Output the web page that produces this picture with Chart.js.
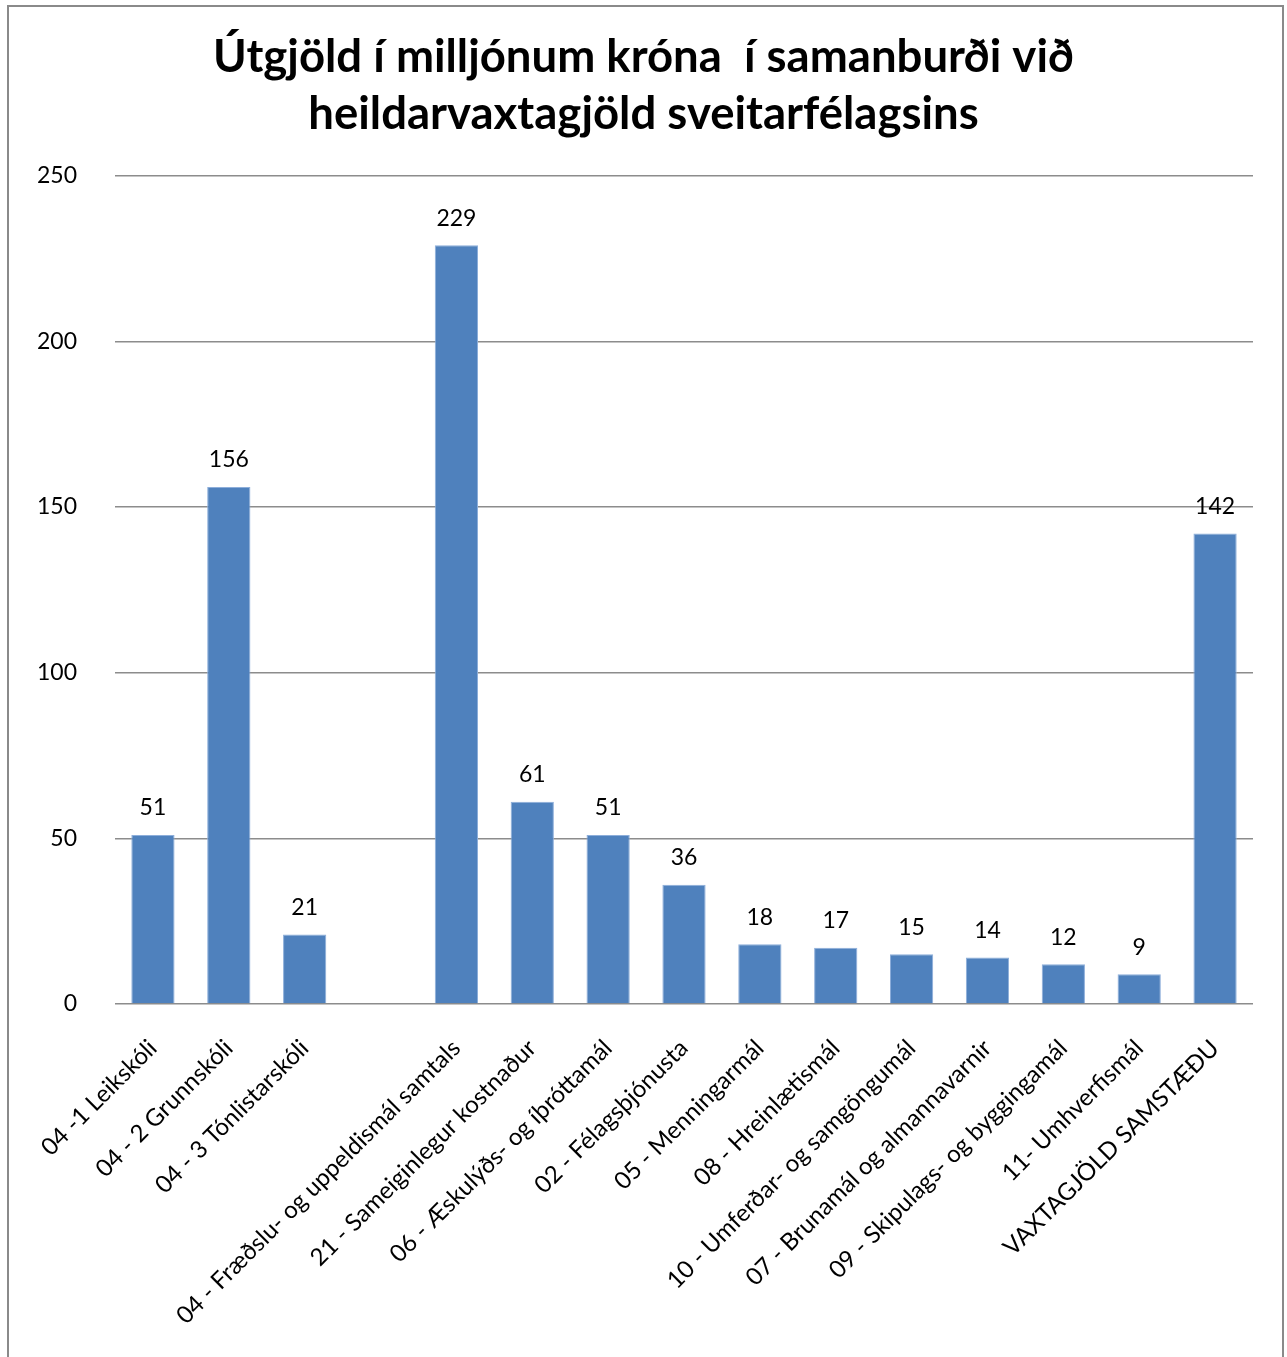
<!DOCTYPE html>
<html>
<head>
<meta charset="utf-8">
<script src="https://cdn.jsdelivr.net/npm/chart.js@4"></script>
<style>
  html, body { margin: 0; padding: 0; background: #fff; }
  #wrap { position: absolute; left: 0; top: 0; width: 1287px; height: 1357px; }
</style>
</head>
<body>
<div id="wrap"><canvas id="myChart"></canvas></div>
<script>
// categories (index 3 is an empty slot in the original)
const categories = [
  "04 -1 Leikskóli",
  "04 - 2 Grunnskóli",
  "04 - 3 Tónlistarskóli",
  "",
  "04 - Fræðslu- og uppeldismál samtals",
  "21 - Sameiginlegur kostnaður",
  "06 - Æskulýðs- og íþróttamál",
  "02 - Félagsþjónusta",
  "05 - Menningarmál",
  "08 - Hreinlætismál",
  "10 - Umferðar- og samgöngumál",
  "07 - Brunamál og almannavarnir",
  "09 - Skipulags- og byggingamál",
  "11- Umhverfismál",
  "VAXTAGJÖLD SAMSTÆÐU"
];
const values = [51, 156, 21, null, 229, 61, 51, 36, 18, 17, 15, 14, 12, 9, 142];
const yTicks = [0, 50, 100, 150, 200, 250];

const titleLines = [
  "Útgjöld í milljónum króna  í samanburði við",
  "heildarvaxtagjöld sveitarfélagsins"
];

const FONT = "Lato, 'Liberation Sans', sans-serif";

// value labels above bars + outer frame
const barLabels = {
  id: 'barLabels',
  afterDatasetsDraw(chart) {
    const ctx = chart.ctx;
    const meta = chart.getDatasetMeta(0);
    ctx.save();
    ctx.font = "23px " + FONT;
    ctx.fillStyle = "#000";
    ctx.textAlign = "center";
    ctx.textBaseline = "middle";
    meta.data.forEach((bar, i) => {
      if (values[i] == null) return;
      ctx.fillText(Math.round(values[i]), bar.x, bar.y - 27);
    });
    ctx.restore();
  },
  beforeDraw(chart) {
    const ctx = chart.ctx;
    ctx.save();
    ctx.strokeStyle = "#8a8a8a";
    ctx.lineWidth = 2;
    ctx.strokeRect(8, 6, 1275, 1400);
    ctx.restore();
  }
};

const config = {
  type: "bar",
  data: {
    labels: categories,
    datasets: [{
      data: values,
      backgroundColor: "#4F81BD",
      borderColor: "#8DAEDA",
      borderWidth: 1,
      barPercentage: 0.57,
      categoryPercentage: 1
    }]
  },
  options: {
    responsive: true,
    maintainAspectRatio: false,
    animation: false,
    layout: { padding: 0 },
    plugins: {
      legend: { display: false },
      tooltip: { enabled: false },
      title: {
        display: true,
        text: titleLines,
        color: "#000",
        font: { family: FONT, size: 45.5, weight: "bold", lineHeight: 1.27 },
        padding: { top: 28, bottom: 32 }
      }
    },
    scales: {
      x: {
        grid: { display: false, drawTicks: false },
        border: { display: false },
        ticks: {
          color: "#000",
          font: { family: FONT, size: 24 },
          minRotation: 45,
          maxRotation: 45,
          autoSkip: false,
          padding: 30
        },
        afterFit(scale) { scale.height = 353; }
      },
      y: {
        min: 0,
        max: 250,
        afterBuildTicks(scale) { scale.ticks = yTicks.map(v => ({ value: v })); },
        grid: { color: "#8c8c8c", lineWidth: 1.5, drawTicks: false },
        border: { display: false },
        ticks: {
          color: "#000",
          font: { family: FONT, size: 23 },
          padding: 38
        },
        afterFit(scale) { scale.width = 115; }
      },
      // empty spacer on the right so the title stays centred on the page
      yRight: {
        position: "right",
        min: 0,
        max: 250,
        grid: { display: false, drawTicks: false },
        border: { display: false },
        ticks: { display: false },
        afterFit(scale) { scale.width = 34; }
      }
    }
  },
  plugins: [barLabels]
};

const ctx = document.getElementById("myChart");
new Chart(ctx, config);
</script>
</body>
</html>
